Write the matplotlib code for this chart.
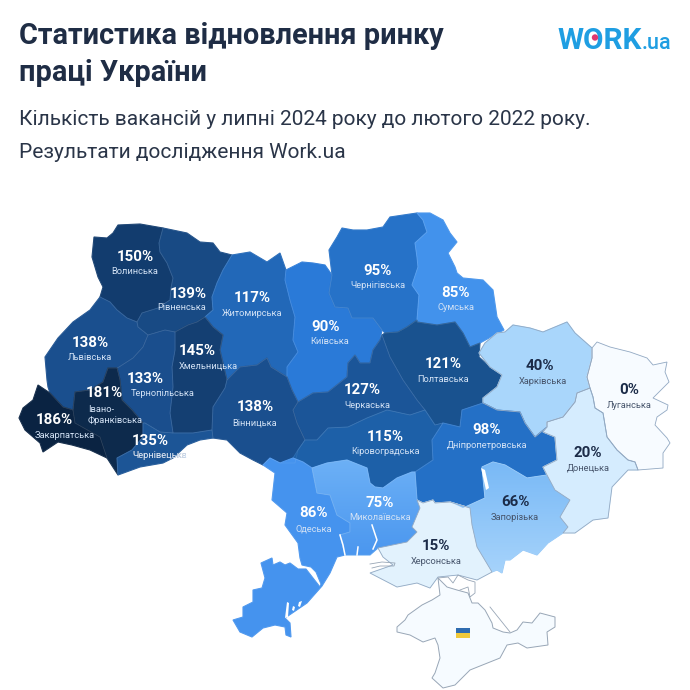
import matplotlib
matplotlib.use("Agg")
import matplotlib.pyplot as plt
import numpy as np
from matplotlib.colors import LinearSegmentedColormap
from matplotlib.patches import Polygon, Rectangle, Circle

plt.rcParams['font.family'] = ['Roboto', 'DejaVu Sans']

# дані: області, відсотки, кольори
regions = ['Волинська', 'Рівненська', 'Житомирська', 'Київська', 'Чернігівська', 'Сумська',
           'Львівська', 'Хмельницька', 'Тернопільська', 'Полтавська', 'Харківська', 'Луганська',
           'Черкаська', 'Вінницька', 'Івано-\nФранківська', 'Закарпатська', 'Чернівецька',
           'Кіровоградська', 'Дніпропетровська', 'Одеська', 'Миколаївська', 'Запорізька',
           'Донецька', 'Херсонська']
percents = [150, 139, 117, 90, 95, 85, 138, 145, 133, 121, 40, 0,
            127, 138, 181, 186, 135, 115, 98, 86, 75, 66, 20, 15]
colors = ['#123c6e', '#184a84', '#2268b8', '#2a7ad8', '#2672c8', '#4292ec',
          '#1a4f8e', '#143f72', '#1a4e8d', '#19528f', '#a9d6fb', '#f7fbff',
          '#1b5598', '#1a4f8e', '#0d2a4c', '#0a2342', '#1c5596',
          '#1d60a8', '#2470c6', '#4593ee', '#5ea6f2', '#90c6f8',
          '#d5ecfe', '#e2f2fd']
# дві області з плавним переходом кольору
gradients = {'Миколаївська': ['#6cb0f6', '#4b97ef'], 'Запорізька': ['#79b9f6', '#a6d3fb']}

# контури областей у координатах картинки
volyn = [(118,225),(140,224),(163,228),(159,243),(160,252),(167,263),(173,278),(171,288),(170,300),(158,308),(142,313),(137,322),(127,318),(117,310),(110,302),(100,297),(103,287),(98,277),(92,257),(94,237),(107,238),(113,233)]
rivne = [(163,228),(187,233),(200,242),(213,243),(220,252),(232,255),(223,270),(217,283),(212,297),(213,310),(205,317),(197,322),(188,325),(175,332),(165,330),(148,335),(138,327),(137,322),(142,313),(158,308),(170,300),(171,288),(173,278),(167,263),(160,252),(159,243)]
zhytomyr = [(232,255),(250,252),(267,262),(280,253),(286,270),(285,280),(290,300),(295,317),(293,340),(298,352),(287,367),(287,377),(271,367),(267,358),(257,365),(240,367),(227,380),(223,363),(220,350),(223,335),(213,327),(205,317),(213,310),(212,297),(217,283),(223,270)]
kyiv = [(286,270),(302,262),(313,263),(325,265),(332,275),(329,293),(335,307),(348,308),(352,318),(373,318),(382,330),(380,340),(373,350),(370,363),(360,363),(355,355),(348,363),(347,377),(328,392),(313,393),(298,402),(292,390),(287,377),(287,367),(298,352),(293,340),(295,317),(290,300),(285,280)]
chernihiv = [(332,275),(329,250),(337,237),(342,228),(353,230),(367,230),(383,227),(390,217),(417,213),(423,220),(427,232),(415,243),(417,257),(418,267),(412,285),(419,295),(417,320),(407,327),(398,332),(385,333),(382,330),(373,318),(352,318),(348,308),(335,307),(329,293)]
sumy = [(417,213),(430,213),(443,220),(450,233),(457,242),(448,253),(455,267),(457,273),(463,278),(483,280),(493,290),(497,317),(504,330),(480,343),(470,347),(463,333),(455,322),(437,325),(417,322),(417,320),(419,295),(412,285),(418,267),(417,257),(415,243),(427,232),(423,220)]
lviv = [(100,297),(110,302),(117,310),(127,318),(137,322),(138,327),(148,335),(143,347),(133,358),(119,367),(117,368),(108,368),(103,382),(90,390),(75,392),(73,410),(63,407),(50,393),(48,387),(47,380),(45,357),(58,338),(73,322),(90,310)]
khmelnytskyi = [(205,317),(213,327),(223,335),(220,350),(223,363),(227,380),(225,388),(213,407),(212,430),(193,433),(173,433),(170,413),(173,387),(172,367),(175,350),(175,332),(188,325),(197,322)]
ternopil = [(148,335),(165,330),(175,332),(175,350),(172,367),(173,387),(170,413),(173,433),(160,432),(145,423),(143,423),(132,410),(122,400),(120,380),(117,368),(119,367),(133,358),(143,347)]
poltava = [(382,335),(385,333),(398,332),(407,327),(417,320),(417,322),(437,325),(455,322),(463,333),(470,347),(480,343),(479,357),(490,367),(502,375),(497,387),(483,398),(483,403),(462,410),(460,427),(443,423),(435,425),(425,410),(417,400),(403,380),(390,357)]
kharkiv = [(479,353),(485,343),(497,333),(505,332),(513,325),(530,328),(543,332),(567,322),(575,333),(592,348),(592,358),(587,377),(590,388),(577,393),(575,402),(563,417),(547,422),(547,427),(535,437),(525,423),(520,412),(497,410),(483,403),(483,398),(497,387),(502,375),(490,367)]
luhansk = [(592,348),(597,342),(610,347),(630,352),(647,358),(653,365),(667,362),(665,372),(669,382),(653,398),(668,405),(667,410),(657,417),(655,425),(667,438),(670,443),(663,453),(663,468),(638,470),(635,462),(628,460),(617,450),(607,437),(603,413),(595,408),(593,397),(590,388),(587,377),(592,358)]
cherkasy = [(380,340),(382,335),(390,357),(403,380),(417,400),(425,410),(410,415),(387,410),(367,418),(348,427),(328,428),(317,440),(305,440),(297,423),(293,410),(298,402),(313,393),(328,392),(347,377),(348,363),(355,355),(360,363),(370,363),(373,350)]
vinnytsia = [(227,380),(240,367),(257,365),(267,358),(271,367),(287,377),(292,390),(298,402),(293,410),(297,423),(305,440),(298,450),(295,463),(280,463),(270,458),(263,465),(253,460),(240,453),(227,440),(213,438),(212,430),(213,407),(225,388)]
ivano = [(108,368),(117,368),(120,380),(122,400),(132,410),(143,423),(143,437),(132,450),(117,458),(118,475),(107,458),(100,437),(75,423),(73,410),(75,392),(90,390),(103,382)]
zakarpattia = [(38,385),(50,393),(63,407),(73,410),(75,423),(100,437),(107,458),(90,450),(72,445),(58,442),(43,452),(40,443),(25,430),(19,418),(23,408),(33,400)]
chernivtsi = [(143,423),(145,423),(160,432),(173,433),(193,433),(212,430),(213,438),(200,440),(187,445),(173,458),(163,463),(140,467),(118,475),(117,458),(132,450),(143,437)]
kirovohrad = [(305,440),(317,440),(328,428),(348,427),(367,418),(387,410),(410,415),(425,410),(435,425),(443,423),(432,440),(433,460),(415,472),(412,472),(397,478),(383,488),(375,487),(370,483),(367,468),(347,460),(327,463),(312,468),(303,462),(293,458),(298,450)]
dnipro = [(443,423),(460,427),(462,410),(483,403),(497,410),(520,412),(525,423),(535,437),(547,427),(543,432),(555,437),(557,460),(543,467),(547,475),(527,478),(505,465),(493,462),(482,467),(485,498),(463,508),(450,502),(435,503),(433,500),(423,503),(417,500),(415,472),(433,460),(432,440)]
odesa = [(263,465),(270,458),(280,463),(293,458),(303,462),(312,468),(317,493),(330,495),(337,515),(350,523),(350,532),(340,535),(345,555),(337,557),(330,573),(322,586),(307,603),(285,618),(290,623),(291,637),(286,635),(285,627),(275,625),(263,628),(252,637),(240,632),(233,620),(243,617),(243,607),(253,602),(253,590),(262,588),(265,578),(261,563),(272,558),(273,565),(280,562),(285,565),(290,563),(298,569),(306,569),(313,578),(320,587),(321,584),(316,572),(311,567),(302,565),(300,558),(298,543),(285,525),(287,513),(272,500),(275,473)]
mykolaiv = [(312,468),(327,463),(347,460),(367,468),(370,483),(375,487),(383,488),(397,478),(412,472),(415,472),(417,500),(420,508),(412,527),(417,532),(407,542),(378,548),(370,555),(345,555),(340,535),(350,532),(350,523),(337,515),(330,495),(317,493)]
zaporizhzhia = [(450,502),(463,508),(485,498),(482,467),(493,462),(505,465),(527,478),(547,475),(555,490),(570,500),(560,517),(568,527),(563,533),(548,543),(537,555),(523,550),(510,560),(505,560),(502,573),(497,570),(492,572),(477,547),(472,525),(470,508)]
donetsk = [(547,422),(563,417),(575,402),(577,393),(590,388),(593,397),(595,408),(603,413),(607,437),(617,450),(628,460),(635,462),(638,470),(628,470),(612,487),(608,518),(593,520),(575,533),(563,533),(568,527),(560,517),(570,500),(555,490),(547,475),(543,467),(557,460),(555,437),(543,432),(547,427)]
kherson = [(420,508),(417,500),(423,503),(433,500),(435,503),(450,502),(470,508),(472,525),(477,547),(492,572),(477,580),(458,575),(438,577),(430,588),(417,583),(397,587),(370,573),(393,565),(383,557),(378,548),(407,542),(417,532),(412,527)]
crimea = [(438,578),(440,595),(432,600),(422,605),(408,615),(405,620),(397,627),(397,632),(410,635),(423,642),(435,638),(438,645),(440,658),(435,673),(432,678),(443,688),(455,685),(470,670),(490,662),(500,658),(507,645),(518,643),(527,648),(548,645),(547,632),(555,627),(555,617),(540,613),(532,623),(523,622),(517,630),(510,633),(503,632),(493,628),(492,623),(485,610),(478,603),(472,603),(468,593),(457,590),(447,587)]

outlines = [volyn, rivne, zhytomyr, kyiv, chernihiv, sumy, lviv, khmelnytskyi, ternopil, poltava,
            kharkiv, luhansk, cherkasy, vinnytsia, ivano, zakarpattia, chernivtsi, kirovohrad,
            dnipro, odesa, mykolaiv, zaporizhzhia, donetsk, kherson]

# лимани та водосховище
lakes = [[(287,602),(289,603),(288,617),(285,618)],
         [(293,606),(295,607),(294,611),(292,610)],
         [(299,602),(302,601),(300,607),(298,606)],
         [(481,468),(485,470),(489,488),(486,490)]]
estuaries = [[(340,535),(343,545),(345,555)],
             [(358,547),(357,555)],
             [(372,525),(377,540),(373,549)]]
# тонкі лінії: Арабатська стрілка, Сиваш, Кінбурн
coast_lines = [[(490,607),(510,632)],
               [(438,578),(448,577),(453,583),(458,575),(468,580),(475,582),(475,593),(470,597),(468,587),(460,590)],
               [(370,564),(382,562),(395,563),(394,566),(380,566),(372,568)]]

# центри підписів
pct_xy = [(135,257),(188,294),(252,298),(326,327),(378,271),(456,293),(90,343),(197,351),(145,379),
          (443,364),(540,366),(629,390),(362,390),(255,407),(104,393),(54,420),(150,441),(385,437),
          (487,430),(314,513),(380,503),(515,502),(588,453),(436,546)]
name_xy = [(135,272),(182,308),(252,313),(330,342),(378,286),(456,308),(90,358),(208,366),(163,394),
           (443,379),(543,381),(629,405),(367,405),(255,423),(115,415),(65,435),(160,456),(385,452),
           (487,446),(314,529),(380,518),(515,517),(588,468),(436,561)]

fig = plt.figure(figsize=(6.9, 6.9), dpi=100)
ax = fig.add_axes([0, 0, 1, 1])

# спочатку заливка, щоб не було щілин між областями
patches = {}
for name, pts, col, val in zip(regions, outlines, colors, percents):
    ax.add_patch(Polygon(pts, closed=True, fc=col, ec=col, lw=0.8, zorder=1))
    if val <= 40:
        edge = '#93a9c2'
    else:
        edge = (1, 1, 1, 0.08)
    patches[name] = Polygon(pts, closed=True, fc='none', ec=edge, lw=0.6, zorder=2)
    ax.add_patch(patches[name])

for name, stops in gradients.items():
    pts = np.array(outlines[regions.index(name)])
    cmap = LinearSegmentedColormap.from_list(name, stops)
    im = ax.imshow(np.linspace(0, 1, 64).reshape(-1, 1), cmap=cmap, aspect='auto', zorder=1.5,
                   extent=(pts[:, 0].min(), pts[:, 0].max(), pts[:, 1].max(), pts[:, 1].min()))
    im.set_clip_path(patches[name])

ax.set_xlim(0, 690)
ax.set_ylim(690, 0)
ax.axis('off')

ax.add_patch(Polygon(crimea, closed=True, fc='#f6fbff', ec='#98a6b6', lw=0.7, zorder=1))
for line in coast_lines:
    ax.plot(*zip(*line), color='#98a6b6', lw=0.6, zorder=2)
for lake in lakes:
    ax.add_patch(Polygon(lake, closed=True, fc='white', ec='none', zorder=3))
for line in estuaries:
    ax.plot(*zip(*line), color='white', lw=1.1, zorder=3)

# прапор у Криму
ax.add_patch(Rectangle((456, 628), 14, 5, fc='#2f6cb0', ec='none', zorder=3))
ax.add_patch(Rectangle((456, 633), 14, 5, fc='#f0c93a', ec='none', zorder=3))

for i, name in enumerate(regions):
    dark = percents[i] <= 66
    pct_col = '#1b2b48' if dark else 'white'
    name_col = '#46546b' if dark else '#d3e2f5'
    ax.text(pct_xy[i][0], pct_xy[i][1], f'{percents[i]}%', color=pct_col, fontsize=10.8,
            fontweight='bold', ha='center', va='center', zorder=5)
    if name == 'Чернівецька':
        # частина підпису виходить за межі області
        ax.text(name_xy[i][0], name_xy[i][1], name, color='#8b95a5', fontsize=6.7,
                ha='center', va='center', zorder=4)
        t = ax.text(name_xy[i][0], name_xy[i][1], name, color=name_col, fontsize=6.7,
                    ha='center', va='center', zorder=5)
        t.set_clip_path(patches[name])
    elif '\n' in name:
        ax.text(88, name_xy[i][1], name, color=name_col, fontsize=6.7, ha='left', va='center',
                linespacing=1.35, zorder=5)
    else:
        ax.text(name_xy[i][0], name_xy[i][1], name, color=name_col, fontsize=6.7,
                ha='center', va='center', zorder=5)

# заголовок
ax.text(19, 44, 'Статистика відновлення ринку', fontsize=20.8, fontweight='bold', color='#1f2d45', va='baseline')
ax.text(19, 81, 'праці України', fontsize=20.8, fontweight='bold', color='#1f2d45', va='baseline')
ax.text(19, 125, 'Кількість вакансій у липні 2024 року до лютого 2022 року.', fontsize=15, color='#2a3548', va='baseline')
ax.text(19, 158, 'Результати дослідження Work.ua', fontsize=15, color='#2a3548', va='baseline')

# логотип
ax.text(557, 49, 'WORK', fontsize=21.4, fontweight='bold', color='#1f9ee2', va='baseline')
ax.text(642, 49, '.ua', fontsize=15.5, fontweight='medium', color='#1f9ee2', va='baseline')
ax.add_patch(Circle((595, 37.5), 3.2, fc='#e0386f', ec='none', zorder=5))

fig.savefig('out.png', dpi=100, facecolor='white')
